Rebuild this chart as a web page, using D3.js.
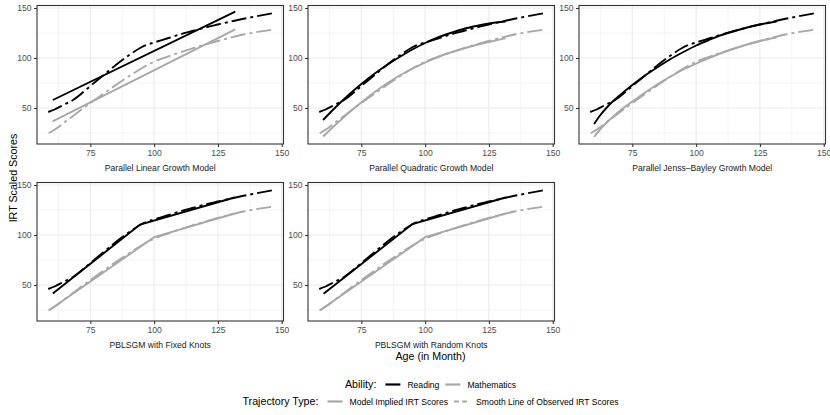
<!DOCTYPE html>
<html>
<head>
<meta charset="utf-8">
<script src="https://cdn.jsdelivr.net/npm/d3@7"></script>
<style>
  body { margin: 0; background: #fff; }
  text { font-family: "Liberation Sans", Arial, sans-serif; }
</style>
</head>
<body>
<div id="chart"></div>
<script>
// facet titles
const panelTitles = [
  "Parallel Linear Growth Model",
  "Parallel Quadratic Growth Model",
  "Parallel Jenss\u2013Bayley Growth Model",
  "PBLSGM with Fixed Knots",
  "PBLSGM with Random Knots"
];

// smooth line of observed scores (same in every panel)
const smoothReadingAge = [58.5, 61, 64, 68.5, 75, 80, 85, 90, 94.5, 97, 100, 105, 110, 115, 120, 125, 131.5, 135, 140, 146.2];
const smoothReading    = [46, 48.5, 52.5, 58.5, 72, 82.5, 93, 102.5, 110, 113, 115.5, 119.5, 123.5, 127, 130.5, 133.5, 137.3, 139.2, 141.7, 144.6];
const smoothMathAge = [58.7, 62, 65, 70, 75, 80, 85, 90, 95, 100, 103, 108, 115, 120, 125, 131.5, 135, 140, 146.2];
const smoothMath    = [24.8, 30, 36, 45.5, 55, 64, 73, 81.5, 89.5, 96.3, 99.3, 103.8, 109.6, 113.5, 117, 121.4, 123.5, 125.8, 128.2];

// model implied scores, one pair of series per panel
const linearReadingAge = [60.3, 131.8];
const linearReading    = [58, 146.3];
const linearMathAge    = [60.2, 131.8];
const linearMath       = [36.7, 128.7];

const quadAge     = [60, 65, 70, 75, 80, 85, 90, 95, 100, 105, 110, 115, 120, 125, 131.5];
const quadReading = [38, 51, 63, 74, 84, 93, 101, 108.5, 115, 120.5, 125, 129, 132, 134.5, 136.5];
const quadMath    = [21.5, 33.5, 45, 55.5, 65.5, 74.5, 82.5, 89.5, 95.5, 101, 105.5, 109.5, 113, 116, 119.8];

const jbAge     = [60, 62.5, 65, 67.5, 70, 75, 80, 85, 90, 95, 100, 105, 110, 115, 120, 125, 131.5];
const jbReading = [34, 43, 50.5, 57, 62.5, 73, 82.5, 91, 99, 106, 112.5, 118, 123, 127, 130.5, 133.5, 136.5];
const jbMath    = [21, 29, 35.5, 41.5, 47, 56.5, 65.5, 74, 81.5, 88.5, 94.5, 100, 105, 109.5, 113.5, 117, 120.5];

const fixedReadingAge = [60.3, 94.5, 131.5];
const fixedReading    = [41.5, 110.5, 137.5];
const fixedMathAge    = [58.7, 100, 131.5];
const fixedMath       = [24.5, 97.8, 121.5];

const randomReadingAge = [60.2, 95, 131.5];
const randomReading    = [41.2, 111, 137.5];
const randomMathAge    = [58.7, 100, 131.5];
const randomMath       = [24.5, 97.8, 121.5];

const xTicks = [75, 100, 125, 150];
const xMinor = [62.5, 87.5, 112.5, 137.5];
const yTicks = [50, 100, 150];
const yMinor = [25, 75, 125];

const zip = (a, b) => a.map((v, i) => [v, b[i]]);

const models = [
  { reading: zip(linearReadingAge, linearReading), math: zip(linearMathAge, linearMath), curve: d3.curveLinear },
  { reading: zip(quadAge, quadReading), math: zip(quadAge, quadMath), curve: d3.curveMonotoneX },
  { reading: zip(jbAge, jbReading), math: zip(jbAge, jbMath), curve: d3.curveMonotoneX },
  { reading: zip(fixedReadingAge, fixedReading), math: zip(fixedMathAge, fixedMath), curve: d3.curveLinear },
  { reading: zip(randomReadingAge, randomReading), math: zip(randomMathAge, randomMath), curve: d3.curveLinear }
];
const smoothR = zip(smoothReadingAge, smoothReading);
const smoothM = zip(smoothMathAge, smoothMath);

const width = 830;
const height = 415;
const colLeft = [37, 308, 579];
const rowTop = [5.5, 182.5];
const pw = 246.5;
const ph = 138.5;

const readingColor = "#000000";
const mathColor = "#a8a8a8";
const dashes = "15,4,3,4";

const x = d3.scaleLinear().domain([54.1, 150.7]).range([0, pw]);
const y = d3.scaleLinear().domain([14, 152.5]).range([ph, 0]);

const svg = d3.select("#chart")
  .append("svg")
  .attr("width", width)
  .attr("height", height);

models.forEach((m, i) => {
  const g = svg.append("g")
    .attr("transform", `translate(${colLeft[i % 3]},${rowTop[Math.floor(i / 3)]})`);

  // grid
  g.selectAll(".vminor").data(xMinor).join("line")
    .attr("x1", d => x(d)).attr("x2", d => x(d)).attr("y1", 0).attr("y2", ph)
    .attr("stroke", "#ebebeb").attr("stroke-width", 0.55);
  g.selectAll(".hminor").data(yMinor).join("line")
    .attr("y1", d => y(d)).attr("y2", d => y(d)).attr("x1", 0).attr("x2", pw)
    .attr("stroke", "#ebebeb").attr("stroke-width", 0.55);
  g.selectAll(".vmajor").data(xTicks).join("line")
    .attr("x1", d => x(d)).attr("x2", d => x(d)).attr("y1", 0).attr("y2", ph)
    .attr("stroke", "#ebebeb").attr("stroke-width", 1.1);
  g.selectAll(".hmajor").data(yTicks).join("line")
    .attr("y1", d => y(d)).attr("y2", d => y(d)).attr("x1", 0).attr("x2", pw)
    .attr("stroke", "#ebebeb").attr("stroke-width", 1.1);

  // lines
  const line = d3.line().x(d => x(d[0])).y(d => y(d[1]));
  g.append("path").datum(m.math)
    .attr("d", line.curve(m.curve)).attr("fill", "none")
    .attr("stroke", mathColor).attr("stroke-width", 1.9);
  g.append("path").datum(m.reading)
    .attr("d", line.curve(m.curve)).attr("fill", "none")
    .attr("stroke", readingColor).attr("stroke-width", 1.9);
  g.append("path").datum(smoothM)
    .attr("d", line.curve(d3.curveMonotoneX)).attr("fill", "none")
    .attr("stroke", mathColor).attr("stroke-width", 1.9).attr("stroke-dasharray", dashes);
  g.append("path").datum(smoothR)
    .attr("d", line.curve(d3.curveMonotoneX)).attr("fill", "none")
    .attr("stroke", readingColor).attr("stroke-width", 1.9).attr("stroke-dasharray", dashes);

  // border
  g.append("rect").attr("width", pw).attr("height", ph)
    .attr("fill", "none").attr("stroke", "#333333").attr("stroke-width", 1.1);

  // axes
  const xAxis = g.append("g")
    .attr("transform", `translate(0,${ph})`)
    .call(d3.axisBottom(x).tickValues(xTicks).tickSize(3).tickPadding(2.5));
  const yAxis = g.append("g")
    .call(d3.axisLeft(y).tickValues(yTicks).tickSize(3).tickPadding(2.5));
  [xAxis, yAxis].forEach(a => {
    a.select(".domain").remove();
    a.selectAll(".tick line").attr("stroke", "#333333").attr("stroke-width", 1.1);
    a.selectAll(".tick text")
      .attr("fill", "#4d4d4d")
      .attr("font-size", 8.6)
      .attr("font-family", "Liberation Sans, Arial, sans-serif");
  });

  // facet label under the panel
  g.append("text")
    .attr("x", pw / 2)
    .attr("y", ph + 26.5)
    .attr("text-anchor", "middle")
    .attr("font-size", 8.6)
    .attr("fill", "#1a1a1a")
    .text(panelTitles[i]);
});

// axis titles
svg.append("text")
  .attr("transform", "translate(16.5,178) rotate(-90)")
  .attr("text-anchor", "middle")
  .attr("font-size", 10.7)
  .text("IRT Scaled Scores");

svg.append("text")
  .attr("x", 430.5)
  .attr("y", 359.5)
  .attr("text-anchor", "middle")
  .attr("font-size", 10.7)
  .text("Age (in Month)");

// legends
const legendRows = [
  { title: "Ability:", y: 384.5, items: [
    { label: "Reading", color: readingColor, dash: null },
    { label: "Mathematics", color: mathColor, dash: null }
  ] },
  { title: "Trajectory Type:", y: 401.5, items: [
    { label: "Model Implied IRT Scores", color: mathColor, dash: null },
    { label: "Smooth Line of Observed IRT Scores", color: mathColor, dash: "5,3" }
  ] }
];

legendRows.forEach(row => {
  const lg = svg.append("g");
  let cx = 0;
  const t = lg.append("text")
    .attr("x", cx).attr("y", row.y + 3.8)
    .attr("font-size", 10.7)
    .text(row.title);
  cx += t.node().getComputedTextLength() + 9;
  row.items.forEach((it, k) => {
    lg.append("line")
      .attr("x1", cx).attr("x2", cx + 15)
      .attr("y1", row.y).attr("y2", row.y)
      .attr("stroke", it.color).attr("stroke-width", 2.2)
      .attr("stroke-dasharray", it.dash);
    cx += 22;
    const lt = lg.append("text")
      .attr("x", cx).attr("y", row.y + 3)
      .attr("font-size", 8.6)
      .text(it.label);
    cx += lt.node().getComputedTextLength();
    if (k < row.items.length - 1) cx += 6;
  });
  lg.attr("transform", `translate(${430.5 - cx / 2},0)`);
});
</script>
</body>
</html>
